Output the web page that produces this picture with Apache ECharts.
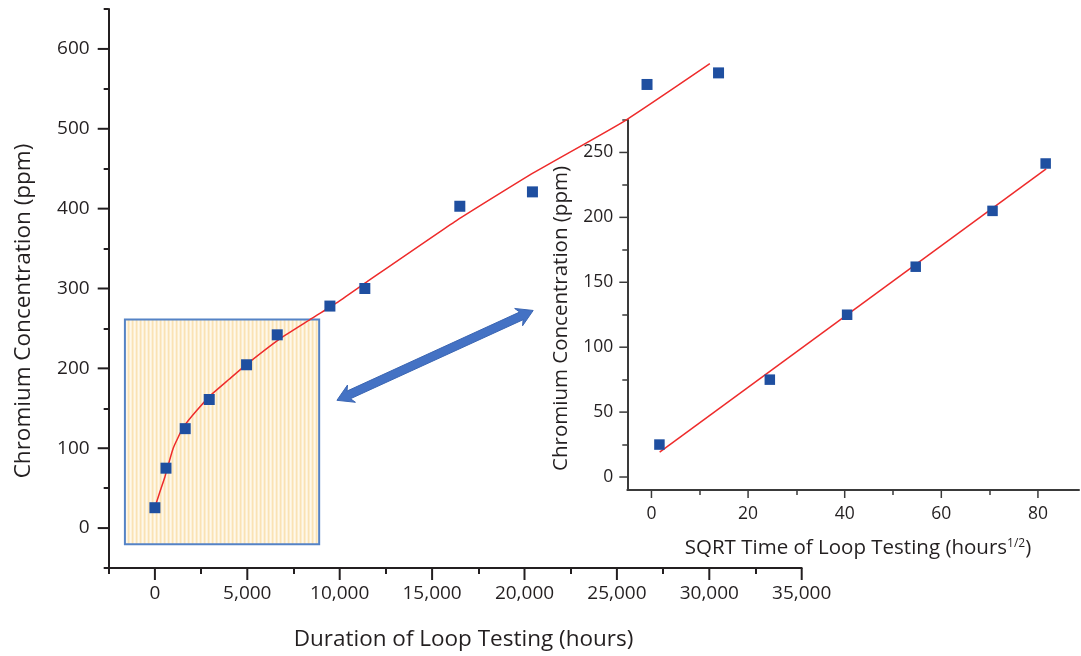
<!DOCTYPE html>
<html><head><meta charset="utf-8">
<script src="https://cdn.jsdelivr.net/npm/echarts@6/dist/echarts.min.js"></script>
<style>html,body{margin:0;padding:0;background:#fff}#c{width:1081px;height:656px}</style>
</head><body><div id="c"></div>
<script>
// ---- Main chart data (hours vs ppm) ----
const hours = [0, 600, 1640, 2940, 4960, 6620, 9470, 11360, 16500, 20430, 26630, 30500];
const ppm   = [25.5, 75, 124.5, 161, 204.5, 242, 278, 300, 403, 421, 555.5, 570];
// fitted curve
const fitHours = [0, 250, 540, 990, 1530, 2250, 3100, 4000, 4960, 6760, 8390, 9830, 11450, 16320, 20500, 25430, 30030];
const fitPpm   = [26, 44, 64, 100, 126, 147, 168, 186, 205, 237, 261, 282, 308, 385, 445, 510, 581.5];
// ---- Inset data (sqrt hours vs ppm) ----
const sqrtHours = [1.65, 24.5, 40.5, 54.7, 70.6, 81.6];
const insetPpm  = [25, 75, 125, 162, 205, 241.5];
const insetFitX = [1.7, 81.7];
const insetFitY = [19.2, 237.3];
// ---- Tick labels ----
const mainXTicks = [0, 5000, 10000, 15000, 20000, 25000, 30000, 35000];
const mainXMinor = [-2500, 2500, 7500, 12500, 17500, 22500, 27500, 32500];
const mainYTicks = [0, 100, 200, 300, 400, 500, 600];
const mainYMinor = [-50, 50, 150, 250, 350, 450, 550, 650];
const insetXTicks = [0, 20, 40, 60, 80];
const insetXMinor = [10, 30, 50, 70];
const insetYTicks = [0, 50, 100, 150, 200, 250];
const insetYMinor = [25, 75, 125, 175, 225, 275];
// ---- Axis ranges ----
const mainXRange = [-2500, 35000];
const mainYRange = [-50, 650];
const insetXRange = [-5, 88.5];
const insetYRange = [-10, 275];
// ---- Annotations (in main data space) ----
const zoomBox = [[-1623, -20.4, 8889, 261.3]];
const arrowEnds = [[9850, 160, 20470, 272.5]];

const pad = (a,b)=>a.map((v,i)=>[v,b[i]]);
const comma = v => String(v).replace(/\B(?=(\d{3})+(?!\d))/g, ',');
const TXT = '#231f20';
const AX2 = '#3a3a3a';
const FONT = 'Open Sans';

const pc = document.createElement('canvas'); pc.width = 4; pc.height = 4;
const g = pc.getContext('2d');
const cols = ['#fae2b4','#fcedcd','#fef8eb','#fdf1d8'];
cols.forEach((c,i)=>{g.fillStyle=c; g.fillRect(i,0,1,4);});

const chart = echarts.init(document.getElementById('c'), null, {renderer:'canvas'});

function labelAx(o){
  return {type:'value', gridIndex:o.grid, position:o.pos, min:o.range[0], max:o.range[1],
    splitLine:{show:false}, axisPointer:{show:false},
    axisLine:{show:true, onZero:false, lineStyle:{color:o.color, width:2}},
    axisTick:{show:false},
    axisLabel:Object.assign({show:true, customValues:o.ticks, color:TXT, fontFamily:FONT}, o.label)};
}
function tickAx(o){
  return {type:'value', gridIndex:o.grid, position:o.pos, min:o.range[0], max:o.range[1],
    splitLine:{show:false}, axisPointer:{show:false},
    axisLine:{show:false, onZero:false},
    axisTick:{show:true, inside:false, customValues:o.ticks, length:o.len, lineStyle:{color:o.color, width:o.tw}},
    axisLabel:{show:false}};
}
// major tick marks placed through the axis scales (api.coord)
function majorTicks(xi, yi, data, dx, dy, color, width){
  return {type:'custom', xAxisIndex:xi, yAxisIndex:yi, z:6, silent:true, clip:false, data:data,
    renderItem:function(params, api){
      const p = api.coord([api.value(0), api.value(1)]);
      return {type:'line', shape:{x1:p[0], y1:p[1], x2:p[0]+dx, y2:p[1]+dy},
        style:{stroke:color, lineWidth:width}};
    }};
}

const option = {
  animation:false,
  backgroundColor:'#fff',
  grid:[
    {left:108.7, top:9, width:693, height:559},
    {left:627.3, top:120, width:451.7, height:370}
  ],
  xAxis:[
    labelAx({grid:0, pos:'bottom', range:mainXRange, color:TXT, ticks:mainXTicks,
        label:{formatter:comma, fontSize:19, margin:16}}),
    tickAx({grid:0, pos:'bottom', range:mainXRange, color:TXT, ticks:mainXMinor, len:6, tw:2}),
    labelAx({grid:1, pos:'bottom', range:insetXRange, color:AX2, ticks:insetXTicks,
        label:{fontSize:17.5, margin:15}}),
    tickAx({grid:1, pos:'bottom', range:insetXRange, color:AX2, ticks:insetXMinor, len:5, tw:1.5})
  ],
  yAxis:[
    labelAx({grid:0, pos:'left', range:mainYRange, color:TXT, ticks:mainYTicks,
        label:{fontSize:19, margin:19}}),
    tickAx({grid:0, pos:'left', range:mainYRange, color:TXT, ticks:mainYMinor, len:5, tw:2}),
    labelAx({grid:1, pos:'left', range:insetYRange, color:AX2, ticks:insetYTicks,
        label:{fontSize:17.5, margin:14}}),
    tickAx({grid:1, pos:'left', range:insetYRange, color:AX2, ticks:insetYMinor, len:5, tw:1.5})
  ],
  series:[
    {type:'custom', xAxisIndex:0, yAxisIndex:0, z:1, silent:true, data:zoomBox,
      renderItem:function(params, api){
        const a = api.coord([api.value(0), api.value(3)]);
        const b = api.coord([api.value(2), api.value(1)]);
        return {type:'rect', shape:{x:a[0], y:a[1], width:b[0]-a[0], height:b[1]-a[1]},
          style:{fill:{image:pc, repeat:'repeat'}, stroke:'#5583c6', lineWidth:2}};
      }},
    {type:'line', xAxisIndex:0, yAxisIndex:0, z:3, data:pad(fitHours, fitPpm), showSymbol:false,
      smooth:0.15, lineStyle:{color:'#ee2b2b', width:1.5}},
    {type:'scatter', xAxisIndex:0, yAxisIndex:0, z:4, data:pad(hours, ppm), symbol:'rect', symbolSize:11,
      itemStyle:{color:'#1f4fa0', opacity:1}},
    {type:'custom', xAxisIndex:0, yAxisIndex:0, z:5, silent:true, data:arrowEnds,
      renderItem:function(params, api){
        const p1 = api.coord([api.value(0), api.value(1)]);
        const p2 = api.coord([api.value(2), api.value(3)]);
        const dx = p2[0]-p1[0], dy = p2[1]-p1[1], L = Math.hypot(dx,dy);
        const ux = dx/L, uy = dy/L, nx = -uy, ny = ux;
        const sw = 4.2, hw = 9.5, hl = 13, back = 3;
        const P = (p, a, b) => [p[0]+ux*a+nx*b, p[1]+uy*a+ny*b];
        const pts = [
          p1, P(p1, hl+back, hw), P(p1, hl, sw), P(p2, -hl, sw), P(p2, -hl-back, hw), p2,
          P(p2, -hl-back, -hw), P(p2, -hl, -sw), P(p1, hl, -sw), P(p1, hl+back, -hw)
        ];
        return {type:'polygon', shape:{points:pts}, style:{fill:'#4472c4', stroke:'#3b66b3', lineWidth:1}};
      }},
    {type:'line', xAxisIndex:2, yAxisIndex:2, z:3, data:pad(insetFitX, insetFitY), showSymbol:false,
      lineStyle:{color:'#ee2b2b', width:1.5}},
    {type:'scatter', xAxisIndex:2, yAxisIndex:2, z:4, data:pad(sqrtHours, insetPpm), symbol:'rect', symbolSize:10.5,
      itemStyle:{color:'#1f4fa0', opacity:1}},
    majorTicks(0, 0, mainXTicks.map(v=>[v, mainYRange[0]]), 0, 12, TXT, 2),
    majorTicks(0, 0, mainYTicks.map(v=>[mainXRange[0], v]), -11, 0, TXT, 2),
    majorTicks(2, 2, insetXTicks.map(v=>[v, insetYRange[0]]), 0, 8, AX2, 1.5),
    majorTicks(2, 2, insetYTicks.map(v=>[insetXRange[0], v]), -8, 0, AX2, 1.5)
  ],
  graphic:[
    {type:'text', x:24, y:311, rotation:Math.PI/2, z:10,
      style:{text:'Chromium Concentration (ppm)', fill:TXT, font:'22.5px "Open Sans"', align:'center', verticalAlign:'middle'}},
    {type:'text', x:463.5, y:640, z:10,
      style:{text:'Duration of Loop Testing (hours)', fill:TXT, font:'22.5px "Open Sans"', align:'center', verticalAlign:'middle'}},
    {type:'text', x:561, y:318.5, rotation:Math.PI/2, z:10,
      style:{text:'Chromium Concentration (ppm)', fill:TXT, font:'20.5px "Open Sans"', align:'center', verticalAlign:'middle'}},
    {type:'text', x:858, y:548, z:10,
      style:{text:'SQRT Time of Loop Testing (hours{sup|1/2})', fill:TXT, font:'20.5px "Open Sans"', align:'center', verticalAlign:'middle',
        rich:{sup:{fontSize:12, fontFamily:'Open Sans', fill:TXT, verticalAlign:'top', padding:[0,0,8,0]}}}}
  ]
};
chart.setOption(option);
</script></body></html>
